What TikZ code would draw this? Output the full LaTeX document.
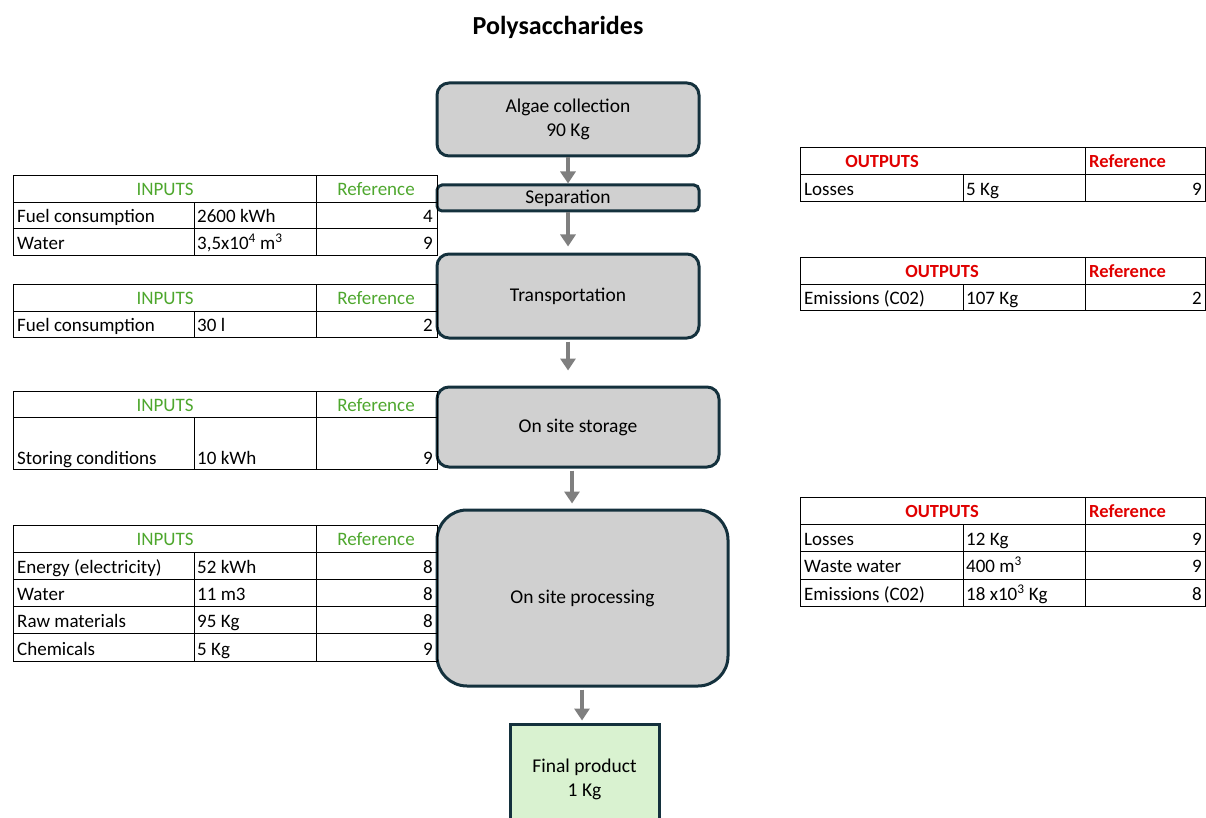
\documentclass[tikz,border=0pt]{standalone}
\usepackage{fontspec}
\setmainfont{Carlito}
\usetikzlibrary{arrows.meta}
\definecolor{boxfill}{HTML}{D0D0D0}
\definecolor{boxline}{HTML}{14313D}
\definecolor{prodfill}{HTML}{D9F2D0}
\definecolor{flowgray}{HTML}{7F7F7F}
\definecolor{ingreen}{HTML}{4EA72E}
\definecolor{outred}{HTML}{E00000}
\tikzset{
  stage/.style={draw=boxline, line width=3pt, fill=boxfill, rounded corners=12pt,
    align=center, font=\fontsize{19.5}{24}\selectfont, inner sep=0pt},
  product/.style={draw=boxline, line width=3pt, fill=prodfill,
    align=center, font=\fontsize{19.5}{24}\selectfont, inner sep=0pt},
  flow/.style={draw=flowgray, line width=4pt, -{Triangle[width=15pt,length=12pt]}},
  grid/.style={draw=black, line width=1pt},
  cell/.style={font=\fontsize{19}{21}\selectfont, inner sep=0pt},
  lcell/.style={cell, anchor=base west},
  rcell/.style={cell, anchor=base east},
  ccell/.style={cell, anchor=base},
  inhead/.style={ccell, text=ingreen},
  outhead/.style={cell, text=outred, font=\fontsize{18.5}{21}\selectfont\bfseries},
}
\begin{document}
\begin{tikzpicture}[x=1pt, y=-1pt]
\useasboundingbox (0,0) rectangle (1206,818);

% title
\node[font=\fontsize{26}{29}\selectfont\bfseries] (title) at (558,27) {Polysaccharides};

% process stages
\node[stage, minimum width=262pt, minimum height=73pt] (algae) at (568,119.5) {Algae collection\\90 Kg};
\node[stage, minimum width=262pt, minimum height=26pt, rounded corners=5pt] (sep) at (568,198) {Separation};
\node[stage, minimum width=262pt, minimum height=84pt] (trans) at (568,296) {Transportation};
\node[stage, minimum width=282pt, minimum height=80pt] (store) at (578,427) {On site storage};
\node[stage, minimum width=291pt, minimum height=176pt, rounded corners=30pt] (proc) at (582.5,598) {On site processing};
\node[product, minimum width=149pt, minimum height=110pt] (final) at (584.5,779) {Final product\\1 Kg};

% flow arrows
\draw[flow] (algae.south -| 568,0) -- (sep.north -| 568,0);
\draw[flow] (sep.south -| 568,0) -- ([yshift=6pt]trans.north -| 568,0);
\draw[flow] ([yshift=-2pt]trans.south -| 568,0) -- ([yshift=15pt]store.north -| 568,0);
\draw[flow] ([yshift=-2pt]store.south -| 572,0) -- ([yshift=5pt]proc.north -| 572,0);
\draw[flow] ([yshift=-2pt]proc.south -| 582,0) -- ([yshift=2pt]final.north -| 582,0);

% ---- input tables (left) ----
% table 1
\draw[grid] (13,176) rectangle (437,255);
\draw[grid] (13,203) -- (437,203) (13,229) -- (437,229);
\draw[grid] (316,176) -- (316,255) (194,203) -- (194,255);
\node[inhead] (i1h) at (165,196) {INPUTS};
\node[inhead] (i1r) at (376,196) {Reference};
\node[lcell] (i1a) at (17,223) {Fuel consumption};
\node[lcell] (i1b) at (197,223) {2600 kWh};
\node[rcell] (i1c) at (433,223) {4};
\node[lcell] (i1d) at (17,249) {Water};
\node[lcell] (i1e) at (197,249) {3,5x10\textsuperscript{4} m\textsuperscript{3}};
\node[rcell] (i1f) at (433,249) {9};

% table 2
\draw[grid] (13,284) rectangle (437,337);
\draw[grid] (13,311) -- (437,311);
\draw[grid] (316,284) -- (316,337) (194,311) -- (194,337);
\node[inhead] (i2h) at (165,304) {INPUTS};
\node[inhead] (i2r) at (376,304) {Reference};
\node[lcell] (i2a) at (17,331) {Fuel consumption};
\node[lcell] (i2b) at (197,331) {30 l};
\node[rcell] (i2c) at (433,331) {2};

% table 3
\draw[grid] (13,391) rectangle (437,469);
\draw[grid] (13,417) -- (437,417);
\draw[grid] (316,391) -- (316,469) (194,417) -- (194,469);
\node[inhead] (i3h) at (165,411) {INPUTS};
\node[inhead] (i3r) at (376,411) {Reference};
\node[lcell] (i3a) at (17,464) {Storing conditions};
\node[lcell] (i3b) at (197,464) {10 kWh};
\node[rcell] (i3c) at (433,464) {9};

% table 4
\draw[grid] (13,525) rectangle (437,661);
\draw[grid] (13,552) -- (437,552) (13,579) -- (437,579) (13,606) -- (437,606) (13,633) -- (437,633);
\draw[grid] (316,525) -- (316,661) (194,552) -- (194,661);
\node[inhead] (i4h) at (165,545) {INPUTS};
\node[inhead] (i4r) at (376,545) {Reference};
\node[lcell] (i4a) at (17,573) {Energy (electricity)};
\node[lcell] (i4b) at (197,573) {52 kWh};
\node[rcell] (i4c) at (433,573) {8};
\node[lcell] (i4d) at (17,600) {Water};
\node[lcell] (i4e) at (197,600) {11 m3};
\node[rcell] (i4f) at (433,600) {8};
\node[lcell] (i4g) at (17,627) {Raw materials};
\node[lcell] (i4h2) at (197,627) {95 Kg};
\node[rcell] (i4i) at (433,627) {8};
\node[lcell] (i4j) at (17,655) {Chemicals};
\node[lcell] (i4k) at (197,655) {5 Kg};
\node[rcell] (i4l) at (433,655) {9};

% ---- output tables (right) ----
% table 1
\draw[grid] (800,148) rectangle (1205,202);
\draw[grid] (800,175) -- (1205,175);
\draw[grid] (1085,148) -- (1085,202) (963,175) -- (963,202);
\node[outhead, anchor=base] (o1h) at (882,168) {OUTPUTS};
\node[outhead, anchor=base west] (o1r) at (1089,168) {Reference};
\node[lcell] (o1a) at (804,196) {Losses};
\node[lcell] (o1b) at (966,196) {5 Kg};
\node[rcell] (o1c) at (1202,196) {9};

% table 2
\draw[grid] (800,257) rectangle (1205,310);
\draw[grid] (800,284) -- (1205,284);
\draw[grid] (1085,257) -- (1085,310) (963,284) -- (963,310);
\node[outhead, anchor=base] (o2h) at (942,277) {OUTPUTS};
\node[outhead, anchor=base west] (o2r) at (1089,277) {Reference};
\node[lcell] (o2a) at (804,304) {Emissions (C02)};
\node[lcell] (o2b) at (966,304) {107 Kg};
\node[rcell] (o2c) at (1202,304) {2};

% table 3
\draw[grid] (800,497) rectangle (1205,606);
\draw[grid] (800,524) -- (1205,524) (800,551) -- (1205,551) (800,579) -- (1205,579);
\draw[grid] (1085,497) -- (1085,606) (963,524) -- (963,606);
\node[outhead, anchor=base] (o3h) at (942,517) {OUTPUTS};
\node[outhead, anchor=base west] (o3r) at (1089,517) {Reference};
\node[lcell] (o3a) at (804,545) {Losses};
\node[lcell] (o3b) at (966,545) {12 Kg};
\node[rcell] (o3c) at (1202,545) {9};
\node[lcell] (o3d) at (804,572) {Waste water};
\node[lcell] (o3e) at (966,572) {400 m\textsuperscript{3}};
\node[rcell] (o3f) at (1202,572) {9};
\node[lcell] (o3g) at (804,600) {Emissions (C02)};
\node[lcell] (o3h2) at (966,600) {18 x10\textsuperscript{3} Kg};
\node[rcell] (o3i) at (1202,600) {8};
\end{tikzpicture}
\end{document}
